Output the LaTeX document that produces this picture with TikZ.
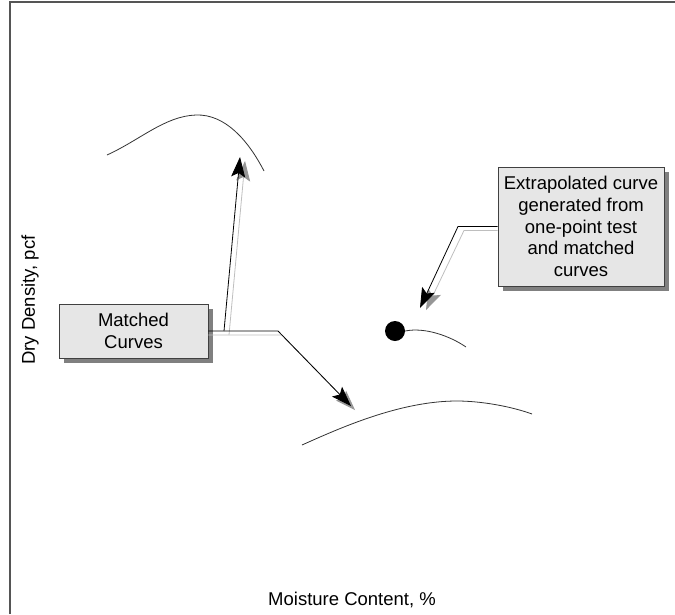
\documentclass[tikz,border=0pt]{standalone}
\usepackage{fontspec}
\setmainfont{Liberation Sans}
\usetikzlibrary{positioning, arrows.meta, shadows}
\definecolor{framegray}{RGB}{85,85,85}
\definecolor{boxfill}{RGB}{230,230,230}
\definecolor{boxshadow}{RGB}{128,128,128}
\definecolor{leadshadow}{RGB}{190,190,190}
\definecolor{tipshadow}{RGB}{150,150,150}
\tikzset{
  callout/.style={draw=black!75, line width=0.8pt, fill=boxfill, align=center,
    font=\fontsize{18.5}{21.7}\selectfont, inner sep=2pt,
    drop shadow={shadow xshift=5pt, shadow yshift=-5pt, fill=boxshadow, opacity=1}},
  axislabel/.style={font=\fontsize{18.5}{21}\selectfont},
  leader/.style={draw=black, line width=0.8pt,
    -{Stealth[length=20pt, width=14pt, inset=4pt]}},
  leadershadow/.style={draw=leadshadow, line width=0.8pt,
    -{Stealth[length=20pt, width=14pt, inset=4pt, color=tipshadow]}},
  curve/.style={draw=black!80, line width=0.8pt},
  onepoint/.style={circle, fill=black, minimum size=20pt, inner sep=0pt}
}
\begin{document}
\begin{tikzpicture}[x=1pt, y=-1pt]
  \useasboundingbox (0,0) rectangle (675,614);
  \draw[framegray, line width=1.2pt] (10,614) -- (10,2) -- (675,2);
  \node[axislabel, rotate=90] (ylab) at (30,300) {Dry Density, pcf};
  \node[axislabel] (xlab) at (352,600) {Moisture Content, \%};
  \node[callout, minimum width=149pt, minimum height=54pt] (matched) at (133.5,331) {Matched\\Curves};
  \node[callout, minimum width=166pt, minimum height=119pt] (extra) at (581,226.5)
    {Extrapolated curve\\generated from\\one-point test\\and matched\\curves};
  \node[onepoint] (onept) at (395,331) {};
  \coordinate (mcfork) at (224,331);
  \coordinate (mcbend) at (278,331);
  \coordinate (lowtip) at (351,406);
  \coordinate (uptip) at (240,157);
  \coordinate (exbend) at (458,226.5);
  \coordinate (dottip) at (420,308);
  \draw[curve] (107,155) .. controls (140,140) and (165,116) .. (196,115)
    .. controls (225,114) and (248,140) .. (264,171);
  \draw[curve] (302,445) .. controls (340,428) and (400,401) .. (457,401)
    .. controls (480,401) and (510,406) .. (532,414);
  \draw[curve] (onept.east) .. controls (425,327) and (450,336) .. (466,347);
  \draw[leadershadow] ([shift={(0,4)}]matched.east) -- ([shift={(4,4)}]mcbend) -- ([shift={(4,4)}]lowtip);
  \draw[leadershadow] ([shift={(5,4)}]mcfork) -- ([shift={(5,4)}]uptip);
  \draw[leadershadow] ([shift={(0,4)}]extra.west) -- ([shift={(6,4)}]exbend) -- ([shift={(6,2)}]dottip);
  \draw[leader] (matched.east) -- (mcbend) -- (lowtip);
  \draw[leader] (mcfork) -- (uptip);
  \draw[leader] (extra.west) -- (exbend) -- (dottip);
\end{tikzpicture}
\end{document}
